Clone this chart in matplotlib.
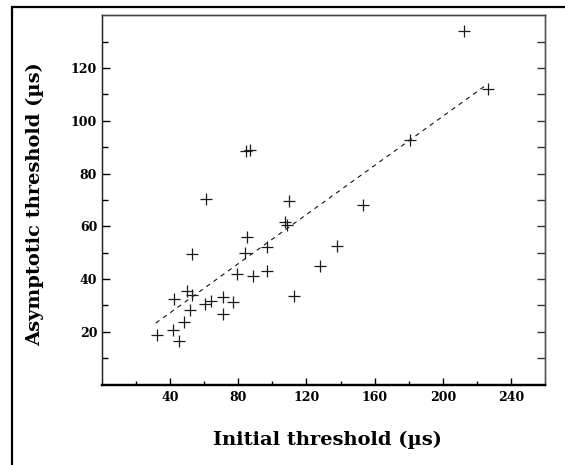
import matplotlib
matplotlib.use("Agg")
import matplotlib.pyplot as plt
from matplotlib.patches import Rectangle

# initial vs asymptotic threshold (µs)
init_thr = [32.2, 41.4, 44.9, 42.5, 48.4, 49.8, 53.1, 51.8, 53.1, 60.2, 64.1,
            61.2, 70.8, 70.8, 77.0, 79.2, 88.4, 84.1, 85.1, 84.5, 87.1, 96.9,
            96.9, 107.6, 108.6, 109.6, 112.9, 127.8, 138.1, 153.1, 180.8,
            212.2, 226.3]
asym_thr = [18.6, 20.5, 16.5, 32.4, 23.8, 35.4, 33.8, 28.3, 49.5, 30.4, 31.5,
            70.2, 33.0, 26.6, 31.3, 41.8, 41.2, 49.9, 56.0, 88.5, 89.1, 52.3,
            43.0, 61.5, 60.6, 69.4, 33.7, 44.8, 52.4, 68.0, 92.7, 134.0, 112.0]

# regression line end points
fit_x = [31.6, 224.3]
fit_y = [23.3, 113.0]

xticks = [40, 80, 120, 160, 200, 240]
yticks = [20, 40, 60, 80, 100, 120]

plt.rcParams['font.family'] = 'DejaVu Serif'
plt.rcParams['font.weight'] = 'bold'

fig = plt.figure(figsize=(5.65, 4.65), dpi=100)
ax = fig.add_axes([102/565, 1 - 384.5/465, 443/565, 369.2/465])

ax.plot(fit_x, fit_y, ls=(0, (4, 4)), color='#111111', lw=0.8)
ax.plot(init_thr, asym_thr, ls='none', marker='+', ms=8.5, mew=0.9,
        color='#1a1a1a')

ax.set_xlim(0, 260)
ax.set_ylim(0, 140)
ax.set_xticks(xticks)
ax.set_xticks([20, 60, 100, 140, 180, 220], minor=True)
ax.set_yticks(yticks)
ax.set_yticks([10, 30, 50, 70, 90, 110, 130], minor=True)

ax.tick_params(axis='x', which='major', direction='in', length=5, width=1,
               pad=5, labelsize=9)
ax.tick_params(axis='x', which='minor', direction='in', length=3, width=1)
ax.tick_params(axis='y', which='major', direction='in', length=6, width=1,
               pad=3.5, labelsize=9)
ax.tick_params(axis='y', which='minor', direction='in', length=4, width=1)

# right side ticks every 10, all same length
ax2 = ax.twinx()
ax2.set_ylim(0, 140)
ax2.set_yticks(range(10, 140, 10))
ax2.tick_params(axis='y', direction='in', length=6, width=1, labelright=False,
                color='#333333')

for a in (ax, ax2):
    a.spines['bottom'].set_linewidth(1.6)
    a.spines['bottom'].set_color('black')
    a.spines['left'].set_linewidth(0.9)
    a.spines['left'].set_color('#222222')
    a.spines['right'].set_linewidth(1.0)
    a.spines['right'].set_color('#555555')
    a.spines['top'].set_linewidth(1.0)
    a.spines['top'].set_color('#444444')

ax.set_xlabel('Initial threshold (µs)', fontsize=14, fontweight='bold')
ax.set_ylabel('Asymptotic threshold (µs)', fontsize=14, fontweight='bold')
ax.xaxis.set_label_coords(0.509, -0.125)
ax.yaxis.set_label_coords(-0.13, 0.4875)

# outer frame, running past the right and bottom edges
fig.add_artist(Rectangle((11.7/565, -0.2), 1.5, 0.2 + 1 - 6.7/465,
                         transform=fig.transFigure, fill=False,
                         lw=1.6, ec='black'))

fig.savefig('out.png', dpi=100)
